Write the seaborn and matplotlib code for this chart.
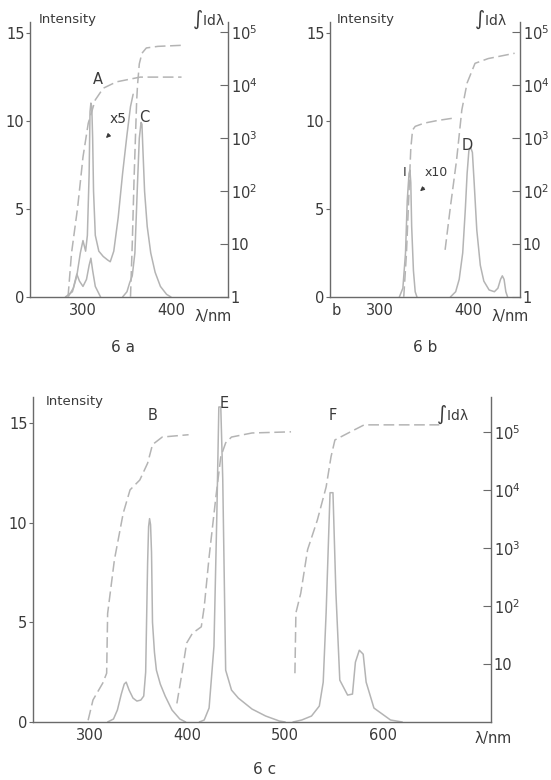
import numpy as np
import pandas as pd
import matplotlib
matplotlib.use("Agg")
import matplotlib.pyplot as plt
import seaborn as sns

# ---------------- data ----------------
# Panel 6a
a_x5_nm = [280, 288, 293, 297, 300, 303, 305, 307, 308, 309, 310, 311, 312, 314, 318, 323, 328, 331, 335, 340, 345, 350, 354, 357]
a_x5_I = [0, 0.3, 1.2, 2.5, 3.2, 2.6, 3.5, 7.0, 10.5, 11.0, 10.8, 9.0, 6.0, 3.5, 2.6, 2.3, 2.1, 2.0, 2.6, 4.5, 7.0, 9.2, 10.8, 11.5]
a_small_nm = [283, 289, 293, 296, 300, 304, 307, 309, 311, 314, 320]
a_small_I = [0, 0.5, 1.3, 0.9, 0.6, 1.0, 1.8, 2.2, 1.5, 0.6, 0]
c_nm = [345, 350, 353, 356, 359, 362, 364, 366, 367, 368, 370, 373, 377, 382, 388, 395, 400]
c_I = [0, 0.3, 0.8, 1.2, 2.5, 6.5, 9.0, 9.9, 9.8, 8.5, 6.0, 4.0, 2.5, 1.4, 0.6, 0.15, 0]
a_cum_nm = [283, 287, 294, 300, 306, 314, 323, 338, 365, 412]
a_cum_log = [0.0, 0.83, 1.70, 2.64, 3.28, 3.72, 3.94, 4.06, 4.15, 4.15]
c_cum_nm = [354, 356, 358, 360, 361, 362, 364, 367, 372, 385, 412]
c_cum_log = [0.0, 1.0, 2.2, 3.2, 3.7, 4.0, 4.4, 4.6, 4.7, 4.73, 4.75]

# Panel 6b
i_nm = [322, 326, 329, 331, 333, 334, 335, 336, 338, 340, 342]
i_I = [0, 0.5, 2.5, 5.5, 7.0, 7.2, 6.5, 4.0, 1.5, 0.3, 0]
d_nm = [380, 386, 390, 394, 397, 399, 401, 403, 405, 407, 410, 414, 418, 424, 430, 434, 437, 439, 441, 443, 445]
d_I = [0, 0.3, 1.0, 2.5, 5.0, 7.0, 8.3, 8.5, 8.2, 6.5, 3.8, 1.8, 0.9, 0.4, 0.3, 0.5, 1.0, 1.2, 1.0, 0.3, 0]
i_cum_nm = [327, 330, 333, 335, 337, 340, 350, 365, 385]
i_cum_log = [0.0, 0.8, 2.0, 2.8, 3.15, 3.22, 3.28, 3.33, 3.38]
d_cum_nm = [374, 380, 387, 393, 399, 408, 423, 453]
d_cum_log = [0.89, 1.7, 2.58, 3.53, 4.04, 4.41, 4.5, 4.6]

# Panel 6c
b_nm = [318, 324, 328, 332, 335, 337, 340, 344, 348, 352, 355, 357, 359, 360, 361, 362, 363, 364, 366, 368, 372, 377, 384, 392, 398]
b_I = [0, 0.15, 0.6, 1.4, 1.9, 2.0, 1.6, 1.2, 1.05, 1.1, 1.3, 2.5, 8.0, 9.8, 10.2, 9.9, 8.5, 5.0, 3.5, 2.6, 1.9, 1.3, 0.6, 0.15, 0]
e_nm = [412, 417, 422, 427, 430, 432, 434, 436, 439, 445, 452, 466, 480, 494, 500]
e_I = [0, 0.1, 0.7, 3.8, 10.5, 15.8, 15.8, 12.2, 2.6, 1.6, 1.2, 0.65, 0.3, 0.05, 0]
f_nm = [508, 517, 527, 535, 539, 542, 546, 549, 552, 556, 564, 569, 572, 576, 580, 583, 591, 608, 620]
f_I = [0, 0.1, 0.3, 0.8, 2.0, 5.5, 11.5, 11.5, 6.5, 2.1, 1.35, 1.4, 3.0, 3.6, 3.4, 2.0, 0.7, 0.1, 0]
b_cum_nm = [298, 303, 313, 317, 318, 325, 334, 341, 351, 359, 364, 374, 401]
b_cum_log = [0.03, 0.38, 0.67, 0.84, 1.87, 2.8, 3.6, 4.0, 4.17, 4.46, 4.78, 4.91, 4.95]
e_cum_nm = [389, 393, 399, 405, 414, 417, 422, 429, 434, 439, 445, 466, 506]
e_cum_log = [0.32, 0.72, 1.36, 1.53, 1.64, 1.98, 2.84, 3.88, 4.57, 4.81, 4.91, 4.98, 5.0]
f_cum_nm = [510, 511, 516, 523, 533, 542, 547, 551, 567, 581, 658]
f_cum_log = [0.84, 1.88, 2.22, 2.97, 3.48, 4.05, 4.57, 4.86, 5.0, 5.12, 5.12]

left_ticks = [0, 5, 10, 15]
right_ticks = [1, 10, 100, 1000, 10000, 100000]
right_labels = ["1", "10", "$10^2$", "$10^3$", "$10^4$", "$10^5$"]

# ---------------- style ----------------
sns.set_style("white")
plt.rcParams["font.family"] = ["DejaVu Sans"]
plt.rcParams["mathtext.default"] = "regular"
LINE = "#b4b4b4"
AXC = "#6a6a6a"
TXT = "#3a3a3a"

W, H = 551, 780
fig = plt.figure(figsize=(W / 100, H / 100), dpi=100)
fig.patch.set_facecolor("white")


def make_axes(l, r, t, b):
    return fig.add_axes([l / W, 1 - b / H, (r - l) / W, (b - t) / H])


def style(ax, ax2, xlim, ytop, logtop, xticks, xticklabels, show_one=True):
    ax.set_xlim(*xlim)
    ax.set_ylim(0, ytop)
    ax2.set_yscale("log")
    ax2.set_ylim(1, 10 ** logtop)
    for a in (ax, ax2):
        for s in a.spines.values():
            s.set_color(AXC)
            s.set_linewidth(1.0)
        a.spines["top"].set_visible(False)
    ax.spines["right"].set_visible(False)
    ax2.spines["left"].set_visible(False)
    ax2.spines["bottom"].set_visible(False)
    ax.set_yticks(left_ticks)
    ax.set_yticklabels([str(v) for v in left_ticks])
    ax.set_xticks(xticks)
    ax.set_xticklabels(xticklabels)
    ax.tick_params(axis="y", direction="out", length=3, color=AXC, labelsize=10.5, labelcolor=TXT, pad=1)
    ax.tick_params(axis="x", direction="in", length=4, color=AXC, labelsize=10.5, labelcolor=TXT, pad=4)
    if show_one:
        ax2.set_yticks(right_ticks)
        ax2.set_yticklabels(right_labels)
    else:
        ax2.set_yticks(right_ticks[1:])
        ax2.set_yticklabels(right_labels[1:])
    ax2.yaxis.set_minor_locator(matplotlib.ticker.NullLocator())
    ax2.tick_params(axis="y", direction="in", length=6, color=AXC, labelsize=10.5, labelcolor=TXT, pad=2)
    ax.set_xlabel("")
    ax.set_ylabel("")
    ax2.set_ylabel("")
    ax.patch.set_alpha(0)


def solid(ax, x, y):
    sns.lineplot(x=x, y=y, ax=ax, color=LINE, lw=1.1, estimator=None, sort=False)


def dashed(ax2, x, logv):
    sns.lineplot(x=x, y=[10 ** v for v in logv], ax=ax2, color=LINE, lw=1.1,
                 estimator=None, sort=False, dashes=False, linestyle=(0, (7, 3)))


def ftext(x, y, s, size=10.5, **kw):
    fig.text(x / W, 1 - y / H, s, ha="center", va="center", fontsize=size, color=TXT, **kw)


# ---------- 6a ----------
ax = make_axes(30, 228, 22, 297)
ax2 = ax.twinx()
solid(ax, a_small_nm, a_small_I)
solid(ax, a_x5_nm, a_x5_I)
solid(ax, c_nm, c_I)
dashed(ax2, a_cum_nm, a_cum_log)
dashed(ax2, c_cum_nm, c_cum_log)
style(ax, ax2, (239.8, 464.8), 15.6, 5.19, [250, 300, 350, 400, 450], ["", "300", "", "400", ""])

# ---------- 6b ----------
bx = make_axes(330, 520, 22, 297)
bx2 = bx.twinx()
solid(bx, i_nm, i_I)
solid(bx, d_nm, d_I)
dashed(bx2, i_cum_nm, i_cum_log)
dashed(bx2, d_cum_nm, d_cum_log)
style(bx, bx2, (243.2, 459.1), 15.6, 5.19, [250, 300, 350, 400, 450], ["b", "300", "", "400", ""])

# ---------- 6c ----------
cx = make_axes(33, 491, 397, 722)
cx2 = cx.twinx()
solid(cx, b_nm, b_I)
solid(cx, e_nm, e_I)
solid(cx, f_nm, f_I)
dashed(cx2, b_cum_nm, b_cum_log)
dashed(cx2, e_cum_nm, e_cum_log)
dashed(cx2, f_cum_nm, f_cum_log)
style(cx, cx2, (241.5, 711), 16.3, 5.6, [250, 300, 350, 400, 450, 500, 550, 600, 650, 700],
      ["", "300", "", "400", "", "500", "", "600", "", ""], show_one=False)

# ---------- texts ----------
ftext(68, 20, "Intensity", size=9.5)
ftext(208, 20, r"$\int$Id$\lambda$", size=10)
ftext(98, 80, "A", size=10.5)
ftext(118, 119, "x5", size=10)
ftext(144, 117, "C", size=10.5)
fig.add_artist(matplotlib.patches.FancyArrowPatch((111 / W, 1 - 133 / H), (104 / W, 1 - 140 / H),
               transform=fig.transFigure, arrowstyle="-|>", mutation_scale=6, color=TXT, lw=0.8))
ftext(213, 315, r"$\lambda$/nm", size=10.5)
ftext(123, 348, "6 a", size=11)

ftext(366, 20, "Intensity", size=9.5)
ftext(490, 20, r"$\int$Id$\lambda$", size=10)
ftext(405, 172, "I", size=9.5)
ftext(436, 172, "x10", size=9)
fig.add_artist(matplotlib.patches.FancyArrowPatch((426 / W, 1 - 186 / H), (418 / W, 1 - 193 / H),
               transform=fig.transFigure, arrowstyle="-|>", mutation_scale=6, color=TXT, lw=0.8))
ftext(467, 145, "D", size=10.5)
ftext(510, 315, r"$\lambda$/nm", size=10.5)
ftext(425, 347, "6 b", size=11)

ftext(75, 402, "Intensity", size=9.5)
ftext(153, 415, "B", size=10.5)
ftext(224, 403, "E", size=10.5)
ftext(333, 415, "F", size=10.5)
ftext(452, 415, r"$\int$Id$\lambda$", size=10)
ftext(493, 738, r"$\lambda$/nm", size=10.5)
ftext(265, 770, "6 c", size=11)

fig.savefig("out.png", dpi=100, facecolor="white")
